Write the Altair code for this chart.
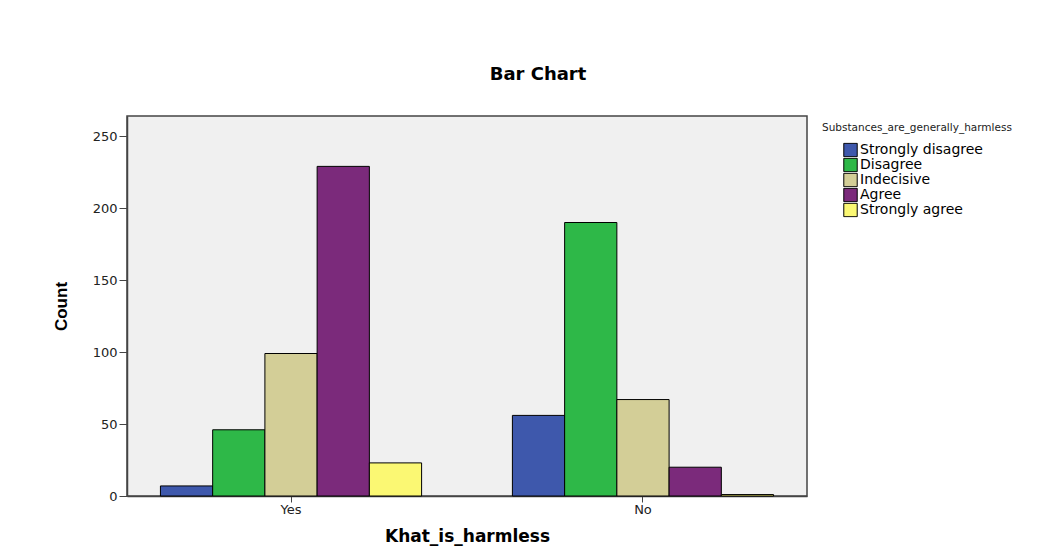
import altair as alt
import pandas as pd

groups = ["Yes", "No"]
responses = ["Strongly disagree", "Disagree", "Indecisive", "Agree", "Strongly agree"]
yes_counts = [7, 46, 99, 229, 23]
no_counts = [56, 190, 67, 20, 1]
colors = ["#3E58AC", "#2EB848", "#D3CE97", "#7B2A7B", "#FBF873"]

rows = []
for g, counts in zip(groups, [yes_counts, no_counts]):
    for r, c in zip(responses, counts):
        rows.append({"Khat_is_harmless": g, "Response": r, "Count": c})
df = pd.DataFrame(rows)

font = "DejaVu Sans"

chart = alt.Chart(df).mark_bar(stroke="black", strokeWidth=1, opacity=1).encode(
    x=alt.X("Khat_is_harmless:N", sort=groups,
            scale=alt.Scale(paddingInner=0.258, paddingOuter=0.095),
            axis=alt.Axis(title="Khat_is_harmless", labelAngle=0, labelFontSize=13,
                          labelColor="#222", labelFont=font, titleFont=font,
                          titleFontSize=17, titleFontWeight="bold", titleColor="black",
                          tickSize=6, tickColor="#444", domain=True, domainColor="#444",
                          domainWidth=1.5, titlePadding=12, labelPadding=1)),
    xOffset=alt.XOffset("Response:N", sort=responses),
    y=alt.Y("Count:Q", scale=alt.Scale(domain=[0, 264], nice=False),
            axis=alt.Axis(title="Count", values=[0, 50, 100, 150, 200, 250], grid=False,
                          labelFontSize=13, labelColor="#222", labelFont=font,
                          titleFont="Liberation Sans", titleFontSize=17,
                          titleFontWeight="bold", titleColor="black",
                          tickSize=8, tickColor="#444", domain=True, domainColor="#444",
                          domainWidth=1.5, titlePadding=22, labelPadding=2)),
    color=alt.Color("Response:N", sort=responses,
                    scale=alt.Scale(domain=responses, range=colors),
                    legend=alt.Legend(title="Substances_are_generally_harmless",
                                      orient="none", legendX=695, legendY=7,
                                      titleFontSize=10.5, titleFontWeight="normal",
                                      titleFont=font, titleColor="#222", titleLimit=400,
                                      titlePadding=9, symbolOffset=21,
                                      symbolType="square", symbolSize=180,
                                      symbolStrokeColor="black", symbolStrokeWidth=1,
                                      labelFontSize=14, labelFont=font, labelColor="black",
                                      labelOffset=2, rowPadding=0, clipHeight=15)),
).properties(
    width=680,
    height=380,
    background="white",
    title=alt.TitleParams("Bar Chart", fontSize=18, fontWeight="bold", font=font,
                          color="black", anchor="middle", dx=71, offset=32),
    padding={"top": 58, "left": 44, "right": 5, "bottom": 5},
).configure_view(
    fill="#F0F0F0", stroke="#444444", strokeWidth=1.5, strokeOpacity=1
)

chart.save("out.html", embed_options={"renderer": "svg", "actions": False})
